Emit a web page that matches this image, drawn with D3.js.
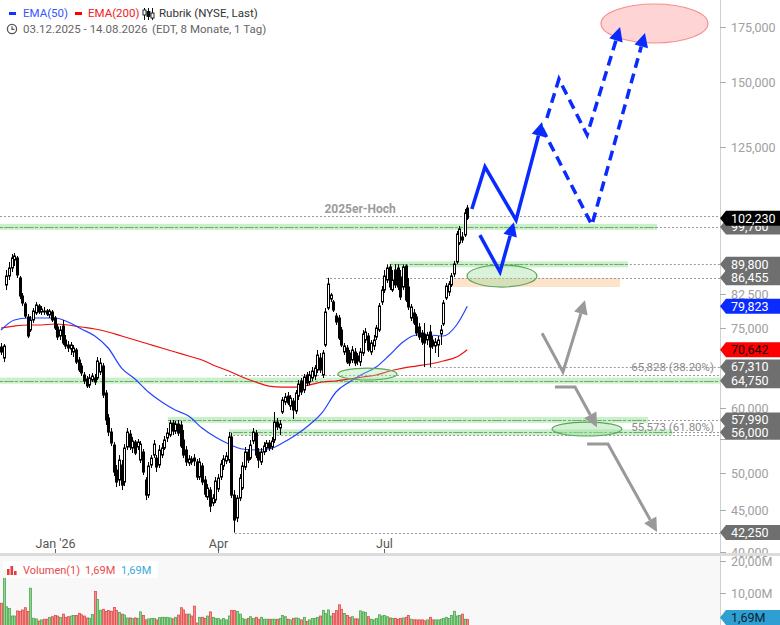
<!DOCTYPE html>
<html><head><meta charset="utf-8">
<script src="https://cdn.jsdelivr.net/npm/d3@7"></script>
<style>body{margin:0;background:#fff;}svg{display:block;font-family:Roboto,"Liberation Sans",Arial,sans-serif;}</style>
</head><body><svg id="c" width="780" height="625"></svg>
<script>
// ---------- DATA (daily bars, index 0 = 03.12.2025 ... 174 = 14.08.2026) ----------
const openP = [71.18,69.00,84.73,86.90,88.88,90.90,91.41,86.42,82.15,80.32,
77.44,74.66,76.79,78.32,79.88,78.54,78.76,78.76,77.88,78.54,
77.22,75.29,73.41,75.50,72.59,71.58,70.78,70.18,70.58,68.62,
67.47,65.79,65.05,63.96,64.87,65.24,65.24,66.35,67.47,62.54,
58.30,56.04,54.03,50.36,48.97,51.08,48.69,53.73,55.73,53.58,
54.49,53.73,51.80,52.98,48.97,46.94,51.08,52.53,52.09,51.08,
52.53,53.58,55.11,55.57,57.48,56.20,57.32,57.16,54.80,53.28,
51.37,51.95,52.09,51.51,49.38,50.94,48.97,46.68,47.61,45.90,
46.29,47.74,49.38,50.94,51.66,51.80,55.26,46.94,44.01,46.55,
47.88,50.79,52.98,52.09,54.64,55.88,52.98,51.51,52.98,53.58,
54.34,53.73,54.80,57.64,56.68,59.29,60.97,62.01,60.29,61.15,
59.45,62.01,64.69,63.07,65.79,64.51,65.24,65.61,66.72,69.00,
65.79,71.58,79.42,81.46,80.78,77.66,77.22,74.66,70.18,70.98,
69.98,68.62,70.18,69.40,68.24,69.98,72.59,73.41,70.18,71.38,
73.20,74.66,80.78,83.55,85.93,89.13,83.55,88.38,88.88,86.66,
84.25,89.38,84.25,77.22,78.32,77.44,75.29,74.03,73.83,72.59,
74.24,72.59,71.38,71.58,73.83,75.93,81.69,83.08,84.73,87.39,
90.39,95.35,96.98,97.52,105.21];
const highP = [71.98,71.78,88.38,90.39,92.45,92.71,91.93,86.90,82.84,80.78,
78.10,77.66,79.42,80.78,80.32,79.88,79.65,79.20,79.20,78.98,
77.66,75.93,75.50,76.79,73.62,72.39,72.19,71.58,70.98,69.20,
68.04,66.35,65.61,65.97,66.16,65.97,69.20,69.00,68.04,63.07,
58.96,56.68,54.49,51.08,52.53,51.80,54.18,56.68,56.36,55.26,
54.80,54.95,54.64,53.43,49.38,51.51,52.53,54.80,52.53,54.03,
54.34,55.42,56.68,57.97,57.97,57.81,57.97,57.81,56.36,53.88,
52.53,52.38,52.68,51.95,52.09,51.37,49.52,48.42,48.01,47.07,
49.38,49.80,51.80,52.53,52.98,56.04,55.88,47.61,46.94,49.80,
51.51,53.73,53.43,54.80,56.68,56.36,53.58,53.58,54.49,54.80,
54.80,55.26,59.29,58.30,57.97,61.84,62.54,62.72,62.19,61.67,
63.07,64.87,65.24,65.97,66.35,66.53,67.28,67.66,70.58,69.98,
70.58,79.42,86.455,82.84,81.23,78.32,77.88,75.29,71.98,71.58,
70.58,71.38,70.98,69.98,70.98,74.66,75.08,74.03,72.59,73.62,
75.72,80.55,84.49,88.38,89.80,89.80,88.38,89.80,89.80,88.38,
89.80,89.80,86.42,80.32,79.20,78.10,76.15,74.66,76.15,74.24,
75.72,73.41,72.99,73.41,75.72,81.23,85.21,85.69,87.64,90.65,
98.62,100.02,98.35,104.91,106.10];
const lowP = [69.59,68.24,83.55,85.93,87.88,89.38,86.42,81.46,79.88,77.22,
72.99,74.24,76.15,77.88,78.10,77.88,77.88,77.66,77.22,76.36,
74.66,72.59,72.59,71.58,70.78,70.18,69.59,69.20,67.85,66.35,
65.61,64.14,63.43,63.43,64.51,63.96,64.87,65.79,61.67,57.16,
55.42,53.88,49.52,48.01,48.15,47.61,48.15,53.28,53.28,52.83,
52.53,53.28,51.37,49.66,46.29,46.55,50.65,52.09,50.08,50.65,
52.09,53.28,54.49,55.26,55.57,55.73,55.42,53.58,52.09,50.94,
50.94,51.08,50.94,48.97,48.97,48.28,46.68,46.29,44.75,45.51,
45.90,47.34,48.97,50.36,51.22,51.37,46.55,42.25,43.51,46.16,
47.61,50.36,51.37,51.80,54.18,52.09,50.65,51.08,52.53,52.98,
53.13,53.28,54.34,56.36,55.57,58.96,60.46,60.46,59.62,58.13,
58.96,61.32,62.19,62.54,63.78,63.96,64.69,64.87,66.16,66.16,
65.24,71.18,78.98,80.78,78.54,75.72,72.59,71.18,69.59,67.85,
67.47,68.04,67.47,67.66,67.47,69.40,71.98,70.18,69.59,70.58,
72.59,74.24,80.10,82.84,85.21,83.55,83.08,84.01,83.55,81.23,
83.55,80.78,78.98,76.57,75.72,73.41,72.59,71.58,67.28,71.58,
67.31,70.78,69.98,69.20,71.58,75.50,81.23,82.15,84.25,86.66,
89.88,94.82,95.35,96.98,101.72];
const closeP = [70.18,71.38,86.90,88.88,91.41,91.93,87.15,82.15,80.55,77.66,
73.41,76.79,78.76,80.10,78.54,79.20,78.54,78.10,78.76,76.79,
75.08,73.20,74.66,71.98,71.38,70.98,71.58,70.98,68.24,66.72,
66.16,64.69,63.78,65.24,65.61,64.51,68.43,68.04,62.19,57.97,
56.04,54.34,50.08,48.69,51.80,48.28,53.58,56.04,53.73,54.64,
52.83,54.49,54.18,50.08,46.94,50.94,52.09,54.18,50.79,53.28,
53.58,54.80,55.88,57.48,56.20,57.32,55.88,53.88,52.53,51.51,
51.95,51.51,51.66,49.38,51.51,48.69,47.07,47.88,45.51,46.55,
48.83,49.24,51.22,51.95,52.38,55.26,46.94,43.76,46.55,49.24,
50.94,52.98,51.80,54.03,56.04,52.53,51.80,52.98,53.88,54.34,
53.58,54.64,57.64,56.84,57.32,61.32,61.84,60.80,61.67,59.62,
62.54,64.14,62.72,65.42,64.32,65.79,66.53,67.09,69.59,66.72,
69.98,78.54,84.97,82.38,78.98,76.36,72.99,71.58,71.38,68.24,
68.04,70.58,68.04,68.43,70.18,73.83,74.24,70.58,71.98,72.59,
75.08,79.88,83.55,86.90,88.88,84.25,85.93,84.73,84.25,81.92,
89.13,81.23,79.65,79.65,76.15,74.03,73.20,72.19,71.98,73.62,
71.18,71.38,72.19,72.59,74.66,80.55,84.49,84.97,86.90,89.88,
97.79,99.18,96.16,103.74,102.23];
// volume in millions
const volumeM = [6.8,17.2,5.7,5.2,2.8,2.8,4.4,4.2,4.7,5.4,
4.2,11.5,2.1,1.9,1.25,1.6,1.8,1.8,2.4,2.6,
3.0,2.8,2.4,3.4,2.4,2.6,2.8,3.0,3.0,3.6,
3.2,2.8,2.2,2.1,3.3,10.5,8.0,4.6,4.9,4.2,
4.5,4.3,5.5,4.5,3.9,3.4,3.1,2.2,2.2,2.0,
2.2,2.0,4.1,3.0,1.6,1.9,2.0,2.0,1.6,2.3,
2.4,2.4,2.4,2.2,1.9,2.4,3.1,5.4,4.7,3.4,
3.4,2.8,5.9,0.6,2.4,2.4,2.0,2.8,4.1,2.4,
2.0,2.0,1.6,2.0,1.6,2.8,4.5,4.5,4.2,3.4,
2.0,1.8,2.0,2.6,2.0,2.4,1.8,2.4,1.8,1.8,
1.8,1.8,1.8,1.8,2.0,3.0,2.6,1.8,1.6,2.1,
2.2,2.0,1.6,2.4,1.15,1.6,2.0,2.0,2.4,2.8,
4.5,3.6,4.7,2.8,3.6,4.5,6.3,4.9,3.6,3.0,
2.4,2.6,1.9,1.9,4.4,4.1,3.9,2.6,1.8,1.6,
2.0,3.2,2.8,3.0,2.6,2.2,2.0,2.0,1.8,2.0,
2.2,2.4,3.0,1.8,1.6,1.6,1.6,1.6,1.3,1.6,
2.4,1.6,1.6,1.6,1.8,2.0,2.4,2.0,3.0,4.3,
2.8,3.0,3.4,1.8,1.69];
// moving averages at every 5th bar
const emaIdx = [0,5,10,15,20,25,30,35,40,45,50,55,60,65,70,75,80,85,90,95,100,105,110,115,120,125,130,135,140,145,150,155,160,165,170,174];
const ema50 = [74.66,76.79,77.22,77.22,77.22,76.36,74.87,73.41,70.98,67.09,65.05,62.72,60.97,59.62,58.63,56.68,55.26,54.18,53.43,53.28,53.43,54.34,55.57,57.16,59.29,62.72,64.51,65.97,67.28,69.59,72.19,73.62,73.62,73.41,75.72,79.823];
const ema200 = [75.08,75.50,75.72,75.72,75.93,75.72,75.29,74.87,74.24,73.41,72.59,71.78,70.98,70.18,69.40,68.62,67.47,66.53,65.42,64.51,63.78,63.60,63.60,63.96,64.51,64.69,65.05,65.42,65.79,66.53,67.09,67.47,67.85,68.43,69.20,70.642];
// axis ticks
const xTickIdx = [20,81,143];
const xTickLabels = ["Jan '26","Apr","Jul"];
const priceTicks = [40,45,50,55,60,67.5,75,82.5,100,125,150,175];
const priceTickLabelled = [40,45,50,60,75,82.5,125,150,175];
const volTicks = [10,20];
// horizontal levels (value, first bar index)
const levelVals = [102.9,99.76,89.80,86.455,67.31,65.828,64.75,57.99,56.00,55.573,42.25];
const levelFrom = [-0.4,-0.4,145.1,121.3,160.0,83.6,-0.4,62.3,85.1,85.1,87.3];
const bandVals = [99.76,89.80,64.75,57.99,56.00];
const bandFrom = [-0.4,145.1,-0.4,62.3,85.1];
const bandTo = [244.8,233.9,268.3,241.4,250.4];
const fibVals = [65.828,55.573];
const fibPct = ["38.20%","61.80%"];
const badgeVals = [99.76,86.455,89.80,67.31,64.75,57.99,56.00,42.25];
const highLabel = "2025er-Hoch", highLabelIdx = 134, highLabelVal = 102.9;
// scenario drawings in (bar index, price)
const blueSolid = [
  [[175.7,104.9],[180.6,118.1],[192.2,101.7],[201.9,134.0]],
  [[178.7,97.5],[186.2,87.9],[191.4,101.1]]
];
const blueDashed = [
  [[203.7,135.5],[208.2,151.2],[218.7,129.2],[231.0,175.0]],
  [[201.9,131.7],[220.5,100.3],[240.3,172.1]]
];
const grayPaths = [
  [[201.9,74.0],[209.7,66.35],[217.9,81.2]],
  [[206.7,63.6],[214.2,63.6],[222.4,56.8]],
  [[218.7,54.2],[226.5,54.2],[244.8,42.3]]
];
const greenEllipses = [[173.9,200.0,89.63,84.25],[125.7,147.8,67.09,64.87],[205.6,231.7,57.64,55.42]];
const targetEllipse = [223.9,263.8,186.7,167.3];
const orangeZone = [168.7,231.0,86.455,84.25];

// ---------- DRAW ----------
const loc = d3.formatLocale({decimal:",",thousands:".",grouping:[3],currency:["","€"]});
const f3 = loc.format(".3f"), f2 = loc.format(".2f");
const AX = 720, PB = 553, VT = 556, H = 625, W = 780;
const x = d3.scaleLinear().domain([0,174]).range([1,467.3]);
const y = d3.scaleLog().domain([40,175]).range([552,27]);
const yv = d3.scaleLinear().domain([0,20]).range([625,561]);
const svg = d3.select("#c");
svg.append("rect").attr("width",W).attr("height",H).attr("fill","#fff");
const defs = svg.append("defs");
defs.append("clipPath").attr("id","pc").append("rect").attr("width",AX).attr("height",PB);
defs.append("clipPath").attr("id","vc").append("rect").attr("y",VT).attr("width",AX).attr("height",H-VT);
const gp = svg.append("g").attr("clip-path","url(#pc)");

// orange zone
gp.append("rect").attr("x",x(orangeZone[0])).attr("width",x(orangeZone[1])-x(orangeZone[0]))
  .attr("y",y(orangeZone[2])).attr("height",y(orangeZone[3])-y(orangeZone[2])).attr("fill","#fde2cc");
// bands
bandVals.forEach((v,k)=>{
  gp.append("rect").attr("x",x(bandFrom[k])).attr("width",x(bandTo[k])-x(bandFrom[k]))
    .attr("y",y(v)-3).attr("height",6).attr("fill","#a8e3a8").attr("opacity",0.6);
});
// dotted level lines
levelVals.forEach((v,k)=>{
  gp.append("line").attr("x1",x(levelFrom[k])).attr("x2",AX).attr("y1",Math.round(y(v))+0.5).attr("y2",Math.round(y(v))+0.5)
    .attr("stroke","#9a9a9a").attr("stroke-width",1).attr("stroke-dasharray","2,2");
});
bandVals.forEach((v,k)=>{
  gp.append("line").attr("x1",x(bandFrom[k])).attr("x2",x(bandTo[k])).attr("y1",Math.round(y(v))+0.5).attr("y2",Math.round(y(v))+0.5)
    .attr("stroke","#5fb35f").attr("stroke-width",1).attr("stroke-dasharray","3,2");
});
// ellipses
function ell(e, fill, stroke, op){
  const cx=(x(e[0])+x(e[1]))/2, rx=Math.abs(x(e[1])-x(e[0]))/2;
  const cy=(y(e[2])+y(e[3]))/2, ry=Math.abs(y(e[3])-y(e[2]))/2;
  gp.append("ellipse").attr("cx",cx).attr("cy",cy).attr("rx",rx).attr("ry",ry)
    .attr("fill",fill).attr("fill-opacity",op).attr("stroke",stroke).attr("stroke-width",1.2);
}
ell(targetEllipse,"#ffd4d4","#f39090",1);
// EMA lines
const emaLine = arr => d3.line().x((d,k)=>x(emaIdx[k])).y(d=>y(d)).curve(d3.curveMonotoneX)(arr);
gp.append("path").attr("d",emaLine(ema200)).attr("fill","none").attr("stroke","#ee1111").attr("stroke-width",1.2);
gp.append("path").attr("d",emaLine(ema50)).attr("fill","none").attr("stroke","#2244ff").attr("stroke-width",1.2);
// candles
const gc = gp.append("g");
closeP.forEach((c,i)=>{
  const o=openP[i], cx=Math.round(x(i))+0.5;
  gc.append("line").attr("x1",cx).attr("x2",cx).attr("y1",y(highP[i])).attr("y2",y(lowP[i])).attr("stroke","#000").attr("stroke-width",1);
  const yt=y(Math.max(o,c)), yb=y(Math.min(o,c));
  gc.append("rect").attr("x",cx-1).attr("width",2).attr("y",yt).attr("height",Math.max(1,yb-yt))
    .attr("fill", c>=o ? "#fff" : "#000").attr("stroke","#000").attr("stroke-width",1);
});
ell(greenEllipses[0],"#9fdf9f","#5aa85a",0.4);
ell(greenEllipses[1],"#9fdf9f","#5aa85a",0.35);
ell(greenEllipses[2],"#9fdf9f","#5aa85a",0.45);
// arrows
function arrow(pts, color, width, dash, len, hw){
  const p = pts.map(d=>[x(d[0]),y(d[1])]);
  const a=p[p.length-2], b=p[p.length-1];
  const dx=b[0]-a[0], dy=b[1]-a[1], L=Math.hypot(dx,dy), ux=dx/L, uy=dy/L;
  const base=[b[0]-ux*len, b[1]-uy*len];
  const lp = p.slice(0,-1).concat([base]);
  gp.append("path").attr("d",d3.line()(lp)).attr("fill","none").attr("stroke",color).attr("stroke-width",width)
    .attr("stroke-dasharray",dash||null).attr("stroke-linejoin","miter");
  gp.append("path").attr("d",d3.line()([b,[base[0]-uy*hw,base[1]+ux*hw],[base[0]+uy*hw,base[1]-ux*hw]])+"Z").attr("fill",color);
}
blueSolid.forEach(p=>arrow(p,"#0a2bff",3.5,null,14,7));
blueDashed.forEach(p=>arrow(p,"#0a2bff",3.5,"10,6",14,7));
grayPaths.forEach(p=>arrow(p,"#999",3,null,14,7));
// texts
gp.append("text").attr("x",x(highLabelIdx)).attr("y",y(highLabelVal)-3).attr("text-anchor","middle")
  .attr("font-size",12).attr("font-weight","bold").attr("fill","#9a9a9a").text(highLabel);
fibVals.forEach((v,k)=>{
  gp.append("text").attr("x",714).attr("y",y(v)-4).attr("text-anchor","end").attr("font-size",11.5)
    .attr("fill","#8a8a8a").text(f3(v)+" ("+fibPct[k]+")");
});

// ---------- price axis ----------
svg.append("line").attr("x1",AX+0.5).attr("x2",AX+0.5).attr("y1",0).attr("y2",H).attr("stroke","#cfcfcf");
priceTicks.forEach(t=>{
  const yy=Math.round(y(t))+0.5;
  svg.append("line").attr("x1",AX).attr("x2",AX+6).attr("y1",yy).attr("y2",yy).attr("stroke","#aaa");
  if (priceTickLabelled.includes(t))
    svg.append("text").attr("x",731).attr("y",yy+4.5).attr("font-size",12.5).attr("fill","#a0a0a0").text(f3(t));
});
// x axis
xTickIdx.forEach((t,k)=>{
  const xx=Math.round(x(t))+0.5;
  svg.append("line").attr("x1",xx).attr("x2",xx).attr("y1",549).attr("y2",PB).attr("stroke","#666");
  svg.append("text").attr("x",xx).attr("y",548).attr("text-anchor","middle").attr("font-size",12.5).attr("fill","#555").text(xTickLabels[k]);
});
// separator + volume panel
svg.append("rect").attr("x",0).attr("y",PB).attr("width",W).attr("height",3).attr("fill","#dcdcdc");
svg.append("rect").attr("x",0).attr("y",VT).attr("width",AX).attr("height",H-VT).attr("fill","#f8f8f8");
const gv = svg.append("g").attr("clip-path","url(#vc)");
volumeM.forEach((v,i)=>{
  const up = closeP[i]>=openP[i];
  const cx=Math.round(x(i))+0.5;
  gv.append("rect").attr("x",cx-1).attr("width",2).attr("y",yv(v)).attr("height",H+2-yv(v))
    .attr("fill",up?"#93d493":"#f49090").attr("stroke",up?"#4ea84e":"#e04a4a").attr("stroke-width",0.8);
});
volTicks.forEach(t=>{
  const yy=Math.round(yv(t))+0.5;
  svg.append("line").attr("x1",AX).attr("x2",AX+6).attr("y1",yy).attr("y2",yy).attr("stroke","#aaa");
  svg.append("text").attr("x",731).attr("y",yy+4.5).attr("font-size",12.5).attr("fill","#a0a0a0").text(f2(t)+"M");
});
// volume legend
svg.append("rect").attr("x",3).attr("y",561).attr("width",155).attr("height",17).attr("fill","#fff").attr("opacity",0.9);
[[7,6],[10.5,9],[14,4]].forEach(b=>svg.append("rect").attr("x",b[0]).attr("y",575-b[1]).attr("width",2.6).attr("height",b[1]).attr("fill","#e23c3c"));
svg.append("text").attr("x",23).attr("y",574).attr("font-size",11).attr("fill","#e84a4a").text("Volumen(1)");
svg.append("text").attr("x",85).attr("y",574).attr("font-size",11).attr("fill","#e84a4a").text(f2(volumeM[174])+"M");
svg.append("text").attr("x",121).attr("y",574).attr("font-size",11).attr("fill","#36a9dc").text(f2(volumeM[174])+"M");

// ---------- badges ----------
function badge(v, fill, tcol, yy, txt){
  const h=7.5;
  svg.append("path").attr("d",`M${AX},${yy}L${AX+6},${yy-h}L${W},${yy-h}L${W},${yy+h}L${AX+6},${yy+h}Z`).attr("fill",fill);
  svg.append("text").attr("x",731).attr("y",yy+4.5).attr("font-size",12.5).attr("fill",tcol).text(txt);
}
badgeVals.forEach(v=>{ if(v===99.76) badge(v,"#6f6f6f","#fff",y(v),f3(v)); });
badge(closeP[174],"#000","#fff",y(closeP[174]),f3(closeP[174]));
badgeVals.forEach(v=>{ if(v!==99.76) badge(v,"#6f6f6f","#fff",y(v),f3(v)); });
badge(ema50[ema50.length-1],"#0a2bff","#fff",y(ema50[ema50.length-1]),f3(ema50[ema50.length-1]));
badge(ema200[ema200.length-1],"#ff0000","#220000",y(ema200[ema200.length-1]),f3(ema200[ema200.length-1]));
badge(volumeM[174],"#2e9fd0","#0b2233",Math.min(yv(volumeM[174]),617.5),f2(volumeM[174])+"M");

// ---------- top legend ----------
svg.append("rect").attr("x",9).attr("y",12).attr("width",7).attr("height",3).attr("fill","#1133ff");
svg.append("text").attr("x",23).attr("y",17).attr("font-size",11.5).attr("fill","#3355ff").text("EMA(50)");
svg.append("rect").attr("x",75).attr("y",12).attr("width",7).attr("height",3).attr("fill","#ff0000");
svg.append("text").attr("x",88).attr("y",17).attr("font-size",11.5).attr("fill","#ee2222").text("EMA(200)");
[0,1,2].forEach(k=>{
  const xx=144.5+k*4;
  svg.append("line").attr("x1",xx).attr("x2",xx).attr("y1",8).attr("y2",20).attr("stroke","#111");
  svg.append("rect").attr("x",xx-1.5).attr("y",10+k*1.5).attr("width",3).attr("height",5).attr("fill",k===1?"#111":"#fff").attr("stroke","#111").attr("stroke-width",0.9);
});
svg.append("text").attr("x",159).attr("y",17).attr("font-size",11.5).attr("fill","#333").text("Rubrik (NYSE, Last)");
svg.append("circle").attr("cx",12).attr("cy",29).attr("r",4.6).attr("fill","none").attr("stroke","#555").attr("stroke-width",1.3);
svg.append("path").attr("d","M12,26.2V29.3H14.4").attr("fill","none").attr("stroke","#555").attr("stroke-width",1.2);
svg.append("text").attr("x",23).attr("y",33).attr("font-size",11.5).attr("fill","#666").text("03.12.2025 - 14.08.2026");
svg.append("text").attr("x",152).attr("y",33).attr("font-size",11.5).attr("fill","#666").text("(EDT, 8 Monate, 1 Tag)");
</script></body></html>
